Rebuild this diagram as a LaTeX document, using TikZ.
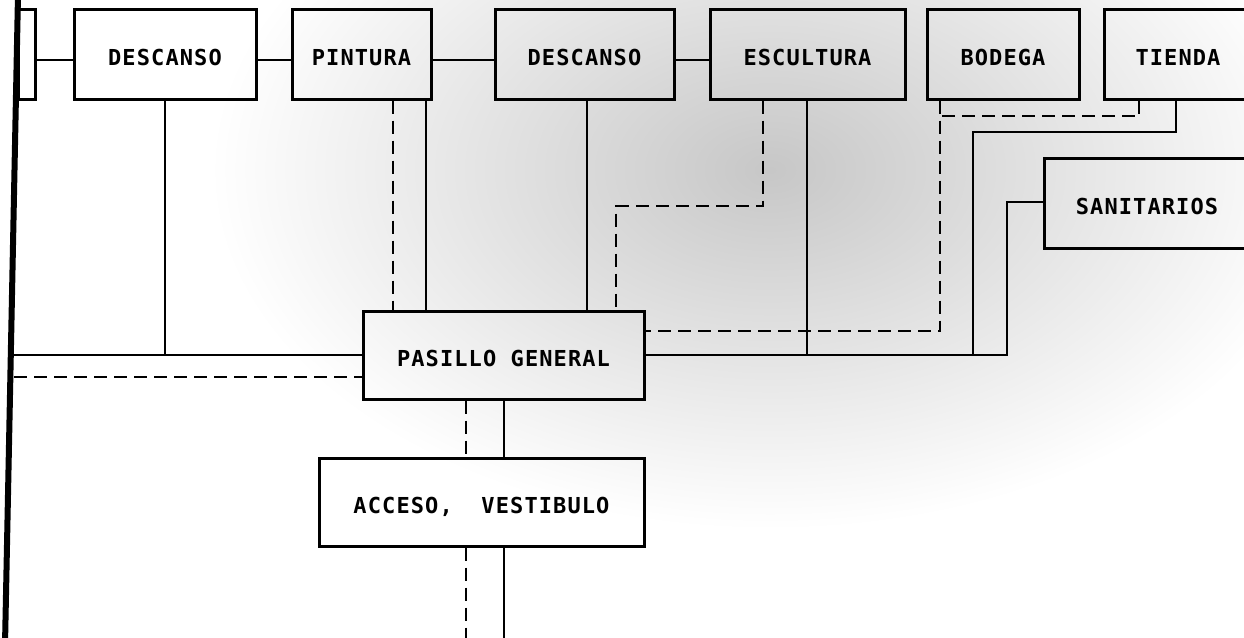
\documentclass[tikz,border=0pt]{standalone}
\usepackage{fontspec}
\newfontfamily\monof[LetterSpace=5]{DejaVu Sans Mono}
\begin{document}
\begin{tikzpicture}[x=1pt,y=-1pt,
  box/.style={draw=black, line width=3pt, minimum height=90pt, inner sep=0pt,
    text height=22pt, text depth=0pt,
    font=\monof\bfseries\fontsize{22}{24}\selectfont},
  conn/.style={line width=2.5pt},
  dconn/.style={line width=2.5pt, dash pattern=on 13pt off 7pt},
]
\useasboundingbox (0,0) rectangle (1244,637);
\clip (0,0) rectangle (1244,637);
\fill[white] (0,0) rectangle (1244,637);
\shade[inner color=black!22, outer color=white] (770,170) ellipse [x radius=560pt, y radius=360pt];

% boxes
\node[box, minimum width=17pt] (L0) at (26.5,54) {};
\node[box, minimum width=182pt] (D1) at (165,54) {DESCANSO};
\node[box, minimum width=139pt] (PIN) at (361.5,54) {PINTURA};
\node[box, minimum width=179pt] (D2) at (584.5,54) {DESCANSO};
\node[box, minimum width=195pt] (ESC) at (807.5,54) {ESCULTURA};
\node[box, minimum width=152pt] (BOD) at (1003,54) {BODEGA};
\node[box, minimum width=148pt] (TIE) at (1178,54) {TIENDA};
\node[box, minimum width=206pt] (SAN) at (1147,203) {SANITARIOS};
\node[box, minimum width=281pt, minimum height=88pt] (PAS) at (503.5,355) {PASILLO GENERAL};
\node[box, minimum width=325pt, minimum height=88pt] (ACC) at (481.5,502) {ACCESO,\ \ VESTIBULO};

% helper coordinates
\coordinate (barT) at (18,-5);
\coordinate (barB) at (5,645);
\coordinate (hl) at (14,355);
\coordinate (dl) at (14,377);
\coordinate (xa) at (393,0);
\coordinate (xb) at (426,0);
\coordinate (xc) at (587,0);
\coordinate (xd) at (763,206);
\coordinate (xe) at (616,206);
\coordinate (xf) at (807,0);
\coordinate (xg) at (940,116);
\coordinate (xn) at (940,331);
\coordinate (xh) at (1139,116);
\coordinate (xi) at (1176,132);
\coordinate (xj) at (973,132);
\coordinate (xk) at (1007,0);
\coordinate (xl) at (466,0);
\coordinate (xm) at (504,0);
\coordinate (bot) at (0,645);

% left thick bar
\draw[line width=6pt] (barT) -- (barB);

% top row connectors
\draw[conn] ([yshift=-6pt]L0.east) -- ([yshift=-6pt]D1.west);
\draw[conn] ([yshift=-6pt]D1.east) -- ([yshift=-6pt]PIN.west);
\draw[conn] ([yshift=-6pt]PIN.east) -- ([yshift=-6pt]D2.west);
\draw[conn] ([yshift=-6pt]D2.east) -- ([yshift=-6pt]ESC.west);

% to pasillo general
\draw[conn] (D1.south) -- (D1.south |- PAS.west);
\draw[conn] (hl) -- (PAS.west);
\draw[dconn] (dl) -- (PAS.west |- dl);
\draw[dconn] (PIN.south -| xa) -- (PAS.north -| xa);
\draw[conn] (PIN.south -| xb) -- (PAS.north -| xb);
\draw[conn] (D2.south -| xc) -- (PAS.north -| xc);
\draw[dconn] (ESC.south -| xd) -- (xd) -- (xe) -- (PAS.north -| xe);
\draw[conn] (ESC.south -| xf) -- (xf |- PAS.east);
\draw[conn] (PAS.east) -- (PAS.east -| xk) -- ([yshift=1pt]SAN.west -| xk) -- ([yshift=1pt]SAN.west);
\draw[conn] (TIE.south -| xi) -- (xi) -- (xj) -- (xj |- PAS.east);
\draw[dconn] (BOD.south -| xg) -- (xn) -- (PAS.east |- xn);
\draw[dconn] (TIE.south -| xh) -- (xh) -- (xg);

% to acceso
\draw[dconn] (PAS.south -| xl) -- (ACC.north -| xl);
\draw[conn] (PAS.south -| xm) -- (ACC.north -| xm);
\draw[dconn] (ACC.south -| xl) -- (bot -| xl);
\draw[conn] (ACC.south -| xm) -- (bot -| xm);
\end{tikzpicture}
\end{document}
